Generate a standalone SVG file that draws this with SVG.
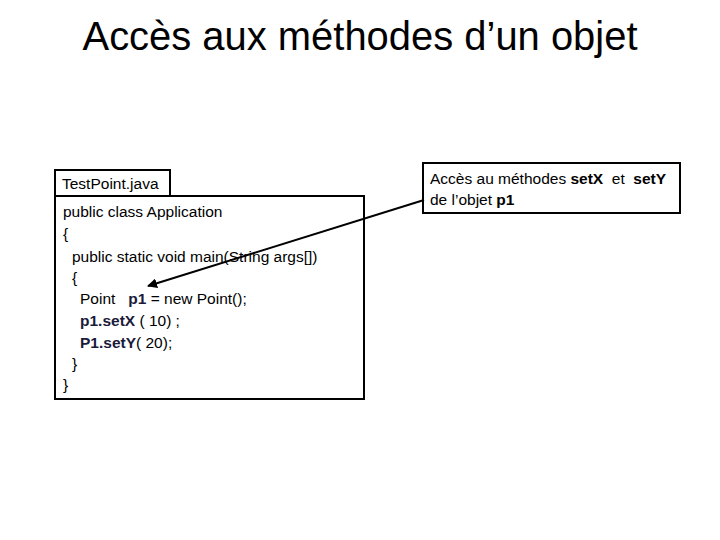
<svg xmlns="http://www.w3.org/2000/svg" width="720" height="540" viewBox="0 0 720 540">
<style>
text{font-family:"Liberation Sans",Arial,sans-serif;fill:#000;white-space:pre}
.c{font-size:15.5px}
.b{font-weight:bold;fill:#1a1a3a}
.box{fill:#fff;stroke:#000;stroke-width:2}
</style>
<defs><marker id="ah" viewBox="0 0 10 10" refX="9" refY="5" markerWidth="5" markerHeight="5" orient="auto"><path d="M0,0L10,5L0,10z" fill="#000"/></marker></defs>
<rect width="720" height="540" fill="#fff"/>
<text x="360" y="50" text-anchor="middle" font-size="40" textLength="555" lengthAdjust="spacingAndGlyphs">Accès aux méthodes d’un objet</text>
<g id="file">
<rect class="box" x="55" y="170" width="115" height="26"/>
<text class="c" x="62" y="189">TestPoint.java</text>
</g>
<g id="code">
<rect class="box" x="55" y="196" width="309" height="203"/>
<text class="c" x="63" y="217">public class Application</text>
<text class="c" x="63" y="239">{</text>
<text class="c" x="72" y="262">public static void main(String args[])</text>
<text class="c" x="72" y="283">{</text>
<text class="c" x="80" y="304">Point   <tspan class="b">p1</tspan> = new Point();</text>
<text class="c" x="80" y="326"><tspan class="b">p1.setX</tspan> ( 10) ;</text>
<text class="c" x="80" y="348"><tspan class="b">P1.setY</tspan>( 20);</text>
<text class="c" x="72" y="369">}</text>
<text class="c" x="63" y="390">}</text>
</g>
<g id="callout">
<rect class="box" x="423" y="163" width="257" height="50"/>
<text class="c" x="430" y="184">Accès au méthodes <tspan font-weight="bold">setX</tspan>  et  <tspan font-weight="bold">setY</tspan></text>
<text class="c" x="430" y="205">de l’objet <tspan font-weight="bold">p1</tspan></text>
</g>
<g id="connectors">
<line x1="424" y1="200" x2="148" y2="286" stroke="#000" stroke-width="2" marker-end="url(#ah)"/>
</g>
</svg>
